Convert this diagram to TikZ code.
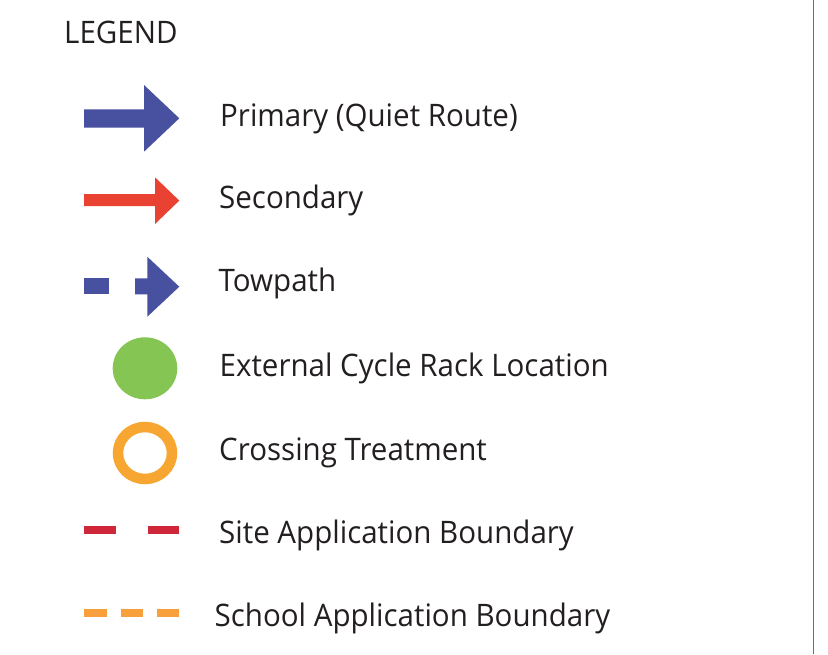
\documentclass[tikz,border=0pt]{standalone}
\usepackage{fontspec}
\setmainfont[FakeStretch=0.952]{Open Sans}
\definecolor{txt}{HTML}{231F20}
\definecolor{pblue}{HTML}{4850A0}
\definecolor{sred}{HTML}{EA4232}
\definecolor{rgreen}{HTML}{84C553}
\definecolor{corange}{HTML}{F7A632}
\definecolor{bred}{HTML}{D0263A}
\definecolor{borange}{HTML}{F8A03C}
\definecolor{rule}{HTML}{6E6E6E}
\begin{document}
\begin{tikzpicture}[x=1pt,y=-1pt,
  lbl/.style={anchor=base west,inner sep=0pt,text=txt,font=\fontsize{31}{36}\selectfont}]
\useasboundingbox (0,0) rectangle (828,654);
\fill[white] (0,0) rectangle (828,654);
% right rule
\draw[rule,line width=1.5pt] (813.3,0) -- (813.3,654);
% title
\node[lbl,font=\fontsize{31}{36}\selectfont] (title) at (64,43) {LEGEND};
% primary arrow
\fill[pblue] (84,109.3) -- (144,109.3) -- (144,85) -- (179.3,118.3) -- (144,151.7) -- (144,127.7) -- (84,127.7) -- cycle;
\node[lbl] (primary) at (220,126) {Primary (Quiet Route)};
% secondary arrow
\fill[sred] (84,194) -- (155,194) -- (155,177.3) -- (179.3,200.6) -- (155,224) -- (155,206) -- (84,206) -- cycle;
\node[lbl] (secondary) at (219,208.4) {Secondary};
% towpath
\fill[pblue] (84,278.3) rectangle (109.3,294.3);
\fill[pblue] (135,278.3) -- (147.3,278.3) -- (147.3,256.7) -- (179.3,286.7) -- (147.3,316.7) -- (147.3,294.3) -- (135,294.3) -- cycle;
\node[lbl] (towpath) at (218.5,291.6) {Towpath};
% cycle rack
\fill[rgreen] (145,368.3) ellipse [x radius=32.3,y radius=31];
\node[lbl] (rack) at (219.5,376) {External Cycle Rack Location};
% crossing treatment
\draw[corange,line width=10.5pt] (145,453) ellipse [x radius=27,y radius=26];
\node[lbl] (crossing) at (219,460) {Crossing Treatment};
% site boundary
\fill[bred] (84,526) rectangle (116,534);
\fill[bred] (147.7,526) rectangle (179.3,534);
\node[lbl] (site) at (219,543.3) {Site Application Boundary};
% school boundary
\fill[borange] (84,609) rectangle (106.7,617.3);
\fill[borange] (121,609) rectangle (143.3,617.3);
\fill[borange] (157.3,609) rectangle (179.3,617.3);
\node[lbl] (school) at (214.5,626) {School Application Boundary};
\end{tikzpicture}
\end{document}
